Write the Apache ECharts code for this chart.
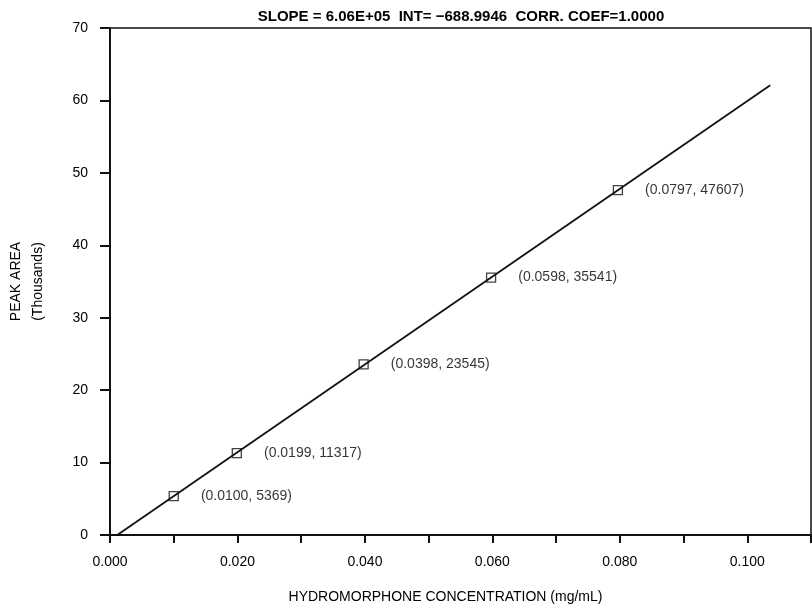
<!DOCTYPE html>
<html>
<head>
<meta charset="utf-8">
<script src="https://cdn.jsdelivr.net/npm/echarts@6/dist/echarts.min.js"></script>
<style>
  html, body { margin: 0; padding: 0; background: #fff; }
  #chart { width: 812px; height: 609px; }
</style>
</head>
<body>
<div id="chart"></div>
<script>
// 数据 (mg/mL, peak area)
var conc = [0.0100, 0.0199, 0.0398, 0.0598, 0.0797];
var area = [5369, 11317, 23545, 35541, 47607];
// 回归线两端
var fitX = [0.00114, 0.1036];
var fitY = [0, 62.09];
var yTicks = [0, 10, 20, 30, 40, 50, 60, 70];
var titleText = 'SLOPE = 6.06E+05  INT= \u2212688.9946  CORR. COEF=1.0000';

var font = 'Liberation Sans, Arial, Helvetica, sans-serif';
var chart = echarts.init(document.getElementById('chart'));

var points = conc.map(function (c, i) {
    return [c, area[i] / 1000];
});
var fitLine = fitX.map(function (x, i) {
    return [x, fitY[i]];
});

var option = {
    animation: false,
    backgroundColor: '#fff',
    title: {
        text: titleText,
        left: 456,
        top: 4,
        textAlign: 'center',
        textStyle: { fontFamily: font, fontSize: 15, fontWeight: 'bold', color: '#000' }
    },
    grid: {
        left: 110, right: 1, top: 28, bottom: 74,
        outerBoundsMode: 'none',
        containLabel: false,
        show: true, borderColor: '#111', borderWidth: 1.5
    },
    xAxis: {
        type: 'value',
        min: 0, max: 0.11, interval: 0.01,
        name: 'HYDROMORPHONE CONCENTRATION (mg/mL)',
        nameLocation: 'middle',
        nameGap: 55,
        nameTextStyle: { fontFamily: font, fontSize: 14, color: '#000', padding: [0, 30, 0, 0] },
        axisLine: { lineStyle: { color: '#111', width: 2 } },
        axisTick: { length: 8, lineStyle: { color: '#111', width: 2 } },
        splitLine: { show: false },
        axisLabel: {
            margin: 20,
            fontFamily: font, fontSize: 14, color: '#000',
            formatter: function (v) {
                var m = Math.round(v * 1000);
                return (m % 20 === 0 && m <= 100) ? v.toFixed(3) : '';
            }
        }
    },
    yAxis: {
        type: 'value',
        min: yTicks[0], max: yTicks[yTicks.length - 1], interval: 10,
        name: 'PEAK AREA\n(Thousands)',
        nameLocation: 'middle',
        nameGap: 61,
        nameRotate: 90,
        nameTextStyle: { fontFamily: font, fontSize: 14, color: '#000', lineHeight: 22 },
        axisLine: { lineStyle: { color: '#111', width: 2 } },
        axisTick: { length: 10, lineStyle: { color: '#111', width: 2 } },
        splitLine: { show: false },
        axisLabel: { margin: 22, fontFamily: font, fontSize: 14, color: '#000' }
    },
    series: [
        {
            type: 'line',
            data: fitLine,
            showSymbol: false,
            lineStyle: { color: '#111', width: 1.8 },
            z: 2
        },
        {
            type: 'scatter',
            data: points,
            symbol: 'rect',
            symbolSize: 9,
            itemStyle: { color: 'rgba(0,0,0,0)', borderColor: '#111', borderWidth: 1.3 },
            label: {
                show: true,
                position: 'right',
                distance: 22,
                fontFamily: font, fontSize: 14, color: '#000',
                formatter: function (p) {
                    return '(' + conc[p.dataIndex].toFixed(4) + ', ' + area[p.dataIndex] + ')';
                }
            },
            z: 3
        }
    ]
};

chart.setOption(option);
</script>
</body>
</html>
